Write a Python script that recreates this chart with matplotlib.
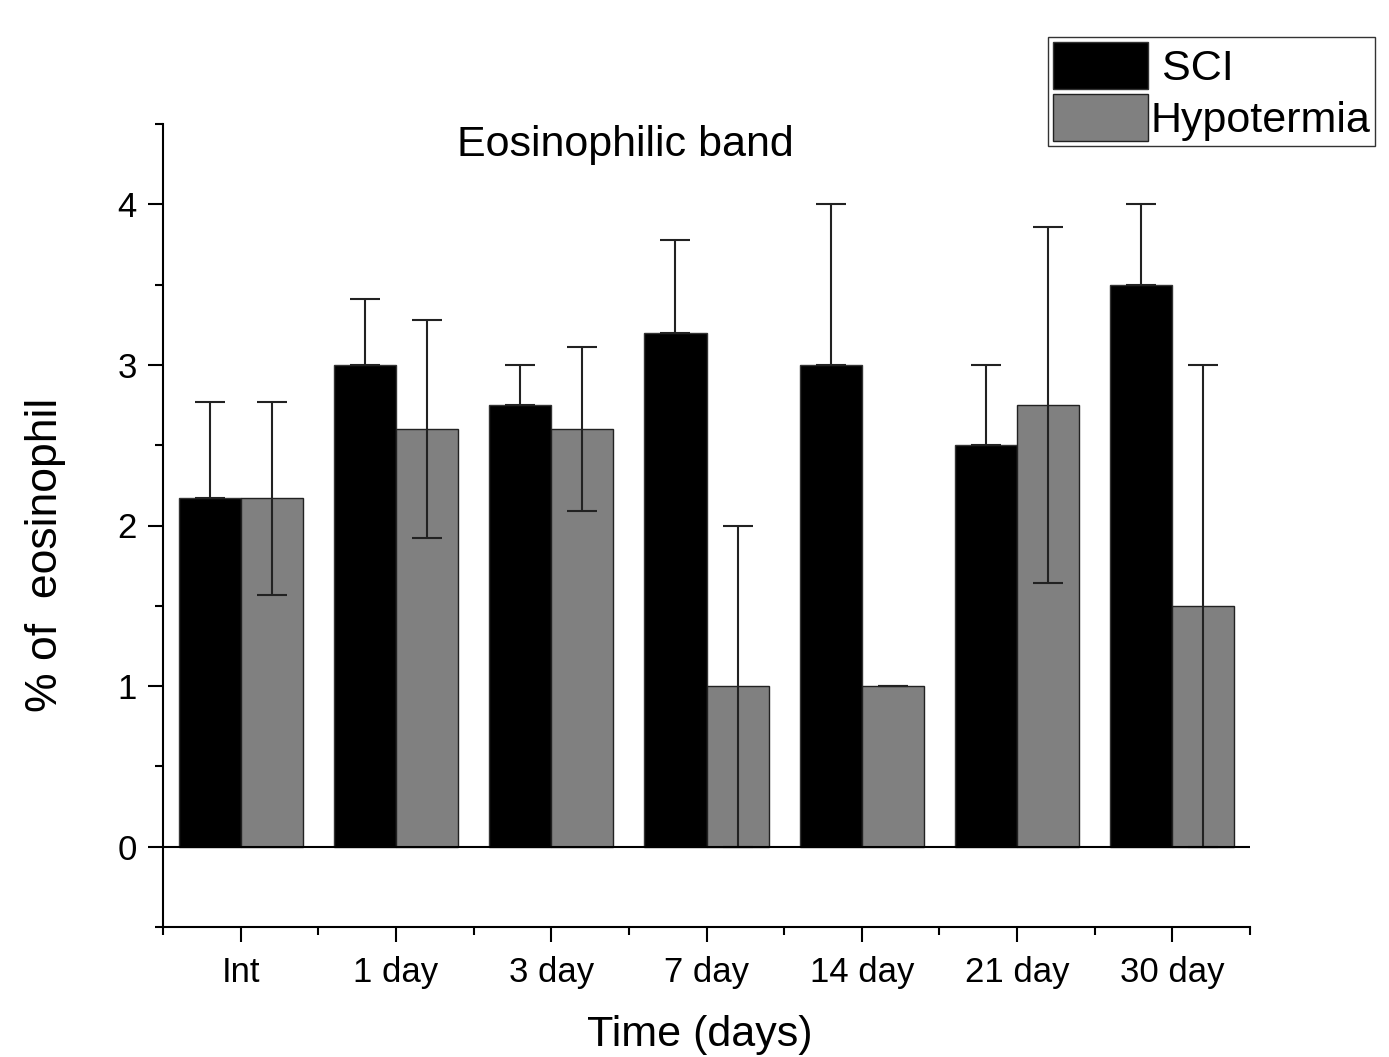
import matplotlib
matplotlib.use("Agg")
import matplotlib.pyplot as plt
import numpy as np

categories = ["Int", "1 day", "3 day", "7 day", "14 day", "21 day", "30 day"]
sci = [2.17, 3.0, 2.75, 3.2, 3.0, 2.5, 3.5]
sci_err_up = [0.60, 0.41, 0.25, 0.58, 1.0, 0.5, 0.5]
hypo = [2.17, 2.6, 2.6, 1.0, 1.0, 2.75, 1.5]
hypo_err = [0.60, 0.68, 0.51, 1.0, 0.0, 1.11, 1.5]

plt.rcParams['font.family'] = ['Liberation Sans', 'DejaVu Sans']

fig = plt.figure(figsize=(13.89, 10.57), dpi=100)
ax = fig.add_axes([163/1389, 130/1057, (1250-163)/1389, (927-124)/1057])

x = np.arange(len(categories))
w = 0.4
err_kw = dict(ecolor='#222222', elinewidth=1.5, capsize=11, capthick=1.5)
b1 = ax.bar(x - w/2, sci, w, color='black', edgecolor='#333333', linewidth=1,
            yerr=[np.zeros(len(sci)), sci_err_up], error_kw=err_kw, label='SCI', zorder=2)
b2 = ax.bar(x + w/2, hypo, w, color='#808080', edgecolor='#222222', linewidth=1,
            yerr=[hypo_err, hypo_err], error_kw=err_kw, label='Hypotermia', zorder=2)

ax.set_xlim(-0.5, 6.5)
ax.set_ylim(-0.5, 4.5)
ax.axhline(0, color='black', lw=1.5, zorder=3)

for s in ['top', 'right']:
    ax.spines[s].set_visible(False)
for s in ['left', 'bottom']:
    ax.spines[s].set_linewidth(1.5)

ax.set_xticks(x)
ax.set_xticklabels(categories)
ax.set_xticks(np.arange(-0.5, 7.0, 1.0), minor=True)
ax.set_yticks([0, 1, 2, 3, 4])
ax.set_yticks(np.arange(-0.5, 4.6, 0.5), minor=True)
ax.tick_params(axis='both', which='major', direction='out', length=11, width=1.5, labelsize=25)
ax.tick_params(axis='x', which='major', pad=10)
ax.tick_params(axis='y', which='major', pad=8)
ax.tick_params(axis='both', which='minor', direction='out', length=6, width=1.5)

fig.text(625/1389, 1 - 145/1057, "Eosinophilic band", ha='center', va='center', fontsize=31)
fig.text(45/1389, 1 - 555/1057, "% of  eosinophil", ha='center', va='center', rotation=90, fontsize=32)
fig.text(700/1389, 1 - 1035/1057, "Time (days)", ha='center', va='center', fontsize=31)

leg = fig.legend(handles=[b1, b2], labels=[' SCI', 'Hypotermia'],
                 loc='upper left', bbox_to_anchor=(1048/1389, 1 - 37/1057),
                 fontsize=31, frameon=True, fancybox=False, shadow=False,
                 handlelength=2.2, handleheight=1.3, handletextpad=0.05,
                 labelspacing=0.12, borderpad=0.12, borderaxespad=0.0)
leg.get_frame().set_edgecolor('black')
leg.get_frame().set_linewidth(1.0)

fig.savefig("out.png", dpi=100)
